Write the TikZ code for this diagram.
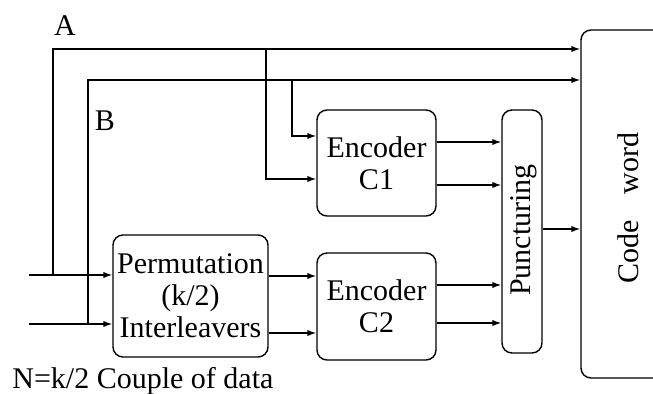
\documentclass[tikz,border=0pt]{standalone}
\usepackage{fontspec}
\setmainfont{Liberation Serif}
\usetikzlibrary{arrows.meta}
\tikzset{
  box/.style={draw, line width=0.7pt, rounded corners=5pt, inner sep=0pt, align=center},
  wire/.style={line width=0.7pt},
  arr/.style={wire, -{Latex[length=4.5pt,width=3.2pt]}},
  txt/.style={inner sep=0pt, font=\fontsize{15}{16}\selectfont}
}
\begin{document}
\begin{tikzpicture}[x=0.5pt,y=-0.5pt]
\useasboundingbox (0,0) rectangle (653,394);
% blocks
\node[box, txt, minimum width=77.5pt, minimum height=61pt] (perm) at (190.5,296) {Permutation\\(k/2)\\Interleavers};
\node[box, txt, minimum width=59.5pt, minimum height=53pt] (c1) at (376.5,163) {Encoder\\C1};
\node[box, txt, minimum width=59.5pt, minimum height=53.5pt] (c2) at (376.5,306.5) {Encoder\\C2};
\node[box, minimum width=20pt, minimum height=121.5pt] (pu) at (522,231.5) {};
\node[txt, rotate=90] (putxt) at (524,230) {Puncturing};
\begin{scope}
\clip (0,0) rectangle (653,394);
\node[box, minimum width=59.5pt, minimum height=174pt] (cw) at (640.5,204) {};
\end{scope}
\node[txt, rotate=90] (cwtxt) at (628,208) {Code\hspace{0.6em} word};
% labels
\node[txt] (la) at (65,26) {A};
\node[txt] (lb) at (105,121) {B};
\node[txt, anchor=west] (ln) at (12,381) {N=k/2 Couple of data};
% coordinates
\coordinate (inA) at (29,275);
\coordinate (jA) at (53,275);
\coordinate (kA) at (266,49);
\coordinate (inB) at (29,324);
\coordinate (jB) at (88,324);
\coordinate (kB) at (292,80);
% input A
\draw[arr] (inA) -- (perm.west |- inA);
\draw[arr] (jA) |- (cw.west |- 0,49);
\draw[arr] (kA) |- (c1.west |- 0,179);
% input B
\draw[arr] (inB) -- (perm.west |- inB);
\draw[arr] (jB) |- (cw.west |- 0,80);
\draw[arr] (kB) |- (c1.west |- 0,136);
% permutation to C2
\draw[arr] (perm.east |- 0,276) -- (c2.west |- 0,276);
\draw[arr] (perm.east |- 0,333) -- (c2.west |- 0,333);
% encoders to puncturing
\draw[arr] (c1.east |- 0,142) -- (pu.west |- 0,142);
\draw[arr] (c1.east |- 0,185) -- (pu.west |- 0,185);
\draw[arr] (c2.east |- 0,285) -- (pu.west |- 0,285);
\draw[arr] (c2.east |- 0,323) -- (pu.west |- 0,323);
% puncturing to code word
\draw[arr] (pu.east |- 0,229) -- (cw.west |- 0,229);
\end{tikzpicture}
\end{document}
